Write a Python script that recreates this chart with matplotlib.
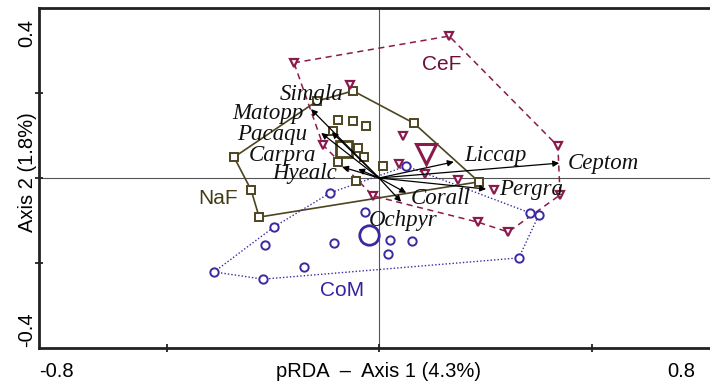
import matplotlib.pyplot as plt
import numpy as np

# --- data (pRDA axis 1 / axis 2 scores) ---
# NaF samples: hull vertices (in drawing order), inner samples, centroid
naf_hull_x = [-0.146, -0.061, 0.082, 0.235, -0.282, -0.301, -0.341]
naf_hull_y = [0.181, 0.205, 0.129, -0.009, -0.092, -0.028, 0.049]
naf_in_x = [-0.096, -0.061, -0.031, -0.108, -0.049, -0.035, -0.096, 0.009, -0.054]
naf_in_y = [0.136, 0.134, 0.122, 0.111, 0.071, 0.049, 0.038, 0.028, -0.007]
naf_cen = (-0.082, 0.068)

# CeF samples
cef_hull_x = [-0.200, 0.165, 0.421, 0.426, 0.304, 0.233, -0.014, -0.132]
cef_hull_y = [0.271, 0.334, 0.075, -0.040, -0.127, -0.104, -0.042, 0.078]
cef_in_x = [-0.068, 0.056, 0.047, 0.108, 0.186, 0.271]
cef_in_y = [0.219, 0.099, 0.033, 0.009, -0.005, -0.028]
cef_cen = (0.111, 0.056)

# CoM samples
com_hull_x = [-0.388, -0.273, 0.329, 0.376, 0.355, 0.064, -0.115, -0.247]
com_hull_y = [-0.221, -0.238, -0.188, -0.087, -0.082, 0.028, -0.035, -0.115]
com_in_x = [-0.268, -0.176, -0.106, -0.033, 0.026, 0.078, 0.021]
com_in_y = [-0.158, -0.209, -0.153, -0.080, -0.146, -0.148, -0.179]
com_cen = (-0.024, -0.134)

# species arrows
species = ['Simgla', 'Matopp', 'Pacaqu', 'Carpra', 'Hyealc',
           'Liccap', 'Ceptom', 'Pergra', 'Corall', 'Ochpyr']
sp_x = [-0.160, -0.111, -0.136, -0.087, -0.049, 0.176, 0.424, 0.252, 0.064, 0.052]
sp_y = [0.162, 0.108, 0.106, 0.026, 0.021, 0.038, 0.035, -0.026, -0.035, -0.056]
lab_x = [-0.158, -0.261, -0.252, -0.226, -0.176, 0.273, 0.529, 0.358, 0.146, 0.056]
lab_y = [0.197, 0.152, 0.102, 0.053, 0.010, 0.054, 0.035, -0.028, -0.049, -0.099]

groups = ['NaF', 'CeF', 'CoM']
group_lab_x = [-0.379, 0.148, -0.087]
group_lab_y = [-0.049, 0.268, -0.264]

c_naf = '#4d4520'
c_cef = '#8a1a4c'
c_com = '#3a2aa2'

fig = plt.figure(figsize=(7.1, 3.83), dpi=100)
# right edge of the axes lies past the figure edge, as in the cropped original
ax = fig.add_axes([39 / 710, 35 / 383, 680 / 710, 340 / 383])
ax.set_xlim(-0.8, 0.8)
ax.set_ylim(-0.4, 0.4)

ax.axhline(0, color='#555555', lw=0.8, zorder=1)
ax.axvline(0, color='#555555', lw=0.8, zorder=1)

# hulls
ax.plot(naf_hull_x + naf_hull_x[:1], naf_hull_y + naf_hull_y[:1],
        color=c_naf, lw=1.2, zorder=2)
ax.plot(cef_hull_x + cef_hull_x[:1], cef_hull_y + cef_hull_y[:1],
        color=c_cef, lw=1.1, ls=(0, (4, 3)), zorder=2)
ax.plot(com_hull_x + com_hull_x[:1], com_hull_y + com_hull_y[:1],
        color=c_com, lw=1.0, ls=(0, (1, 1.5)), zorder=2)

# sample points
ax.plot(naf_hull_x + naf_in_x, naf_hull_y + naf_in_y, 's', ms=6,
        mfc='white', mec=c_naf, mew=1.4, zorder=4)
ax.plot(*naf_cen, 's', ms=12, mfc='none', mec=c_naf, mew=2, zorder=4)
ax.plot(cef_hull_x + cef_in_x, cef_hull_y + cef_in_y, 'v', ms=6,
        mfc='white', mec=c_cef, mew=1.6, zorder=4)
ax.plot(*cef_cen, 'v', ms=14, mfc='none', mec=c_cef, mew=2.2, zorder=4)
ax.plot(com_hull_x + com_in_x, com_hull_y + com_in_y, 'o', ms=6,
        mfc='white', mec=c_com, mew=1.4, zorder=4)
ax.plot(*com_cen, 'o', ms=14, mfc='none', mec=c_com, mew=2, zorder=4)

# species arrows and labels
for name, x, y, lx, ly in zip(species, sp_x, sp_y, lab_x, lab_y):
    ax.annotate('', xy=(x, y), xytext=(0, 0),
                arrowprops=dict(arrowstyle='-|>', color='black', lw=0.9,
                                mutation_scale=9, shrinkA=0, shrinkB=0),
                zorder=5)
    ax.text(lx, ly, name, family='Liberation Serif', style='italic',
            fontsize=16.5, ha='center', va='center', color='#111111', zorder=6)

for g, gx, gy, c in zip(groups, group_lab_x, group_lab_y, ['#433c17', '#6e0d3a', '#3324a0']):
    ax.text(gx, gy, g, family='Liberation Sans', fontsize=15, color=c,
            ha='center', va='center', zorder=6)

# frame
for s in ['left', 'bottom', 'top']:
    ax.spines[s].set_linewidth(2)
    ax.spines[s].set_color('#222222')
ax.spines['right'].set_visible(False)

ax.set_xticks([-0.5, 0, 0.5])
ax.set_yticks([-0.2, 0, 0.2])
ax.tick_params(direction='inout', length=6, width=1.3, color='#222222',
               labelbottom=False, labelleft=False)

# axis end labels and titles
fs = 14.5
ax.text(-0.8, -0.455, '-0.8', family='Liberation Sans', fontsize=fs,
        ha='left', va='center')
ax.text(0.745, -0.455, '0.8', family='Liberation Sans', fontsize=fs,
        ha='right', va='center')
ax.text(0.0, -0.455, 'pRDA  \u2013  Axis 1 (4.3%)', family='Liberation Sans',
        fontsize=fs, ha='center', va='center')
ax.text(-0.828, 0.342, '0.4', family='Liberation Sans', fontsize=fs,
        rotation=90, ha='center', va='center')
ax.text(-0.828, -0.358, '-0.4', family='Liberation Sans', fontsize=fs,
        rotation=90, ha='center', va='center')
ax.text(-0.828, 0.014, 'Axis 2 (1.8%)', family='Liberation Sans', fontsize=fs,
        rotation=90, ha='center', va='center')

fig.savefig('out.png', dpi=100)
